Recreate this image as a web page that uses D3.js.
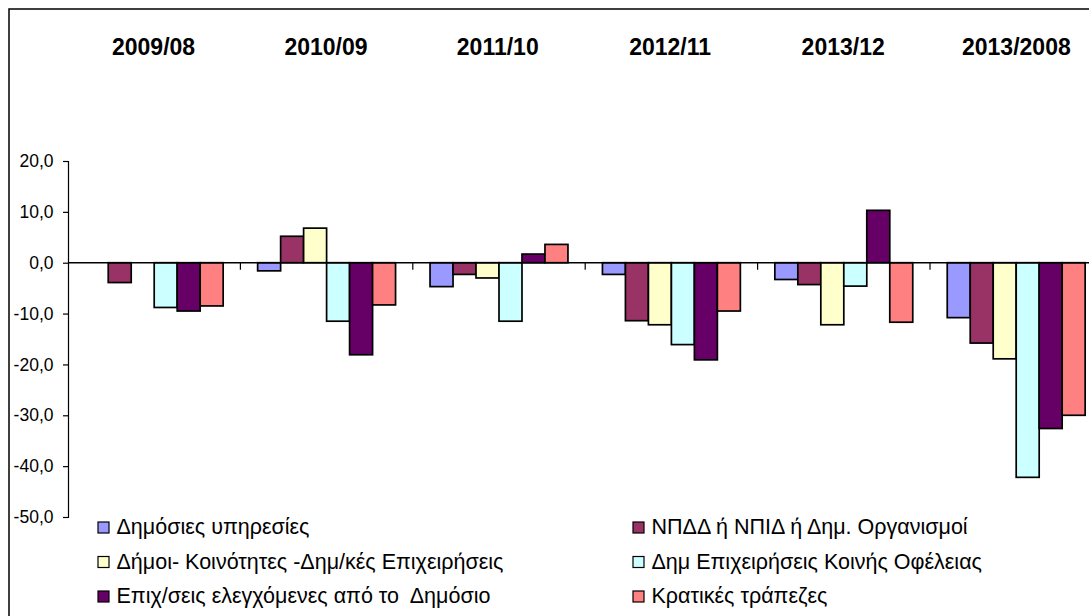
<!DOCTYPE html>
<html>
<head>
<meta charset="utf-8">
<script src="https://cdn.jsdelivr.net/npm/d3@7"></script>
<style>
  body { margin: 0; background: #fff; }
  text { font-family: "Liberation Sans", Arial, sans-serif; fill: #000; white-space: pre; }
</style>
</head>
<body>
<svg id="chart" width="1089" height="616"></svg>
<script>
// categories and series
const periods = ['2009/08', '2010/09', '2011/10', '2012/11', '2013/12', '2013/2008'];
const seriesNames = [
  'Δημόσιες υπηρεσίες',
  'ΝΠΔΔ ή ΝΠΙΔ ή Δημ. Οργανισμοί',
  'Δήμοι- Κοινότητες -Δημ/κές Επιχειρήσεις',
  'Δημ Επιχειρήσεις Κοινής Οφέλειας',
  'Επιχ/σεις ελεγχόμενες από το  Δημόσιο',
  'Κρατικές τράπεζες'
];
const seriesColors = ['#9999FF', '#993366', '#FFFFCC', '#CCFFFF', '#660066', '#FF8080'];

// values per series (null = no bar)
const dimosiesYpiresies = [null, -1.6, -4.7, -2.3, -3.3, -10.8];
const npdd = [-3.9, 5.2, -2.3, -11.4, -4.3, -15.8];
const dimoi = [null, 6.8, -3.0, -12.2, -12.2, -18.9];
const dimEpix = [-8.8, -11.5, -11.5, -16.1, -4.6, -42.2];
const epixDimosio = [-9.5, -18.1, 1.7, -19.1, 10.3, -32.6];
const kratikesTrapezes = [-8.5, -8.3, 3.6, -9.5, -11.7, -30.0];
const seriesValues = [dimosiesYpiresies, npdd, dimoi, dimEpix, epixDimosio, kratikesTrapezes];

const yTicks = [20, 10, 0, -10, -20, -30, -40, -50];
const fmt = v => d3.format('.1f')(v).replace('.', ',').replace('−', '-');

const svg = d3.select('#chart');

//outer frame (cut by the picture edges)
svg.append('rect')
  .attr('x', 9).attr('y', 9)
  .attr('width', 1200).attr('height', 800)
  .attr('fill', 'none').attr('stroke', '#000').attr('stroke-width', 1.5);

//scales
const plotLeft = 68, bandW = 172.4;
const x0 = d3.scaleBand().domain(periods)
  .range([plotLeft, plotLeft + bandW * periods.length]).padding(0);
const barW = bandW / 7.5;
const x1 = d3.scaleBand().domain(d3.range(seriesNames.length))
  .range([barW * 0.75, bandW - barW * 0.75]).padding(0);
const y = d3.scaleLinear().domain([-50, 20]).range([517, 161]);

//y axis
const yAxis = d3.axisLeft(y).tickValues(yTicks).tickSize(5).tickPadding(9.5).tickFormat(fmt);
const ya = svg.append('g').attr('transform', `translate(${plotLeft},0)`).call(yAxis);
ya.select('.domain').attr('stroke', '#000').attr('stroke-width', 1.2);
ya.selectAll('.tick line').attr('stroke', '#000').attr('stroke-width', 1.2);
ya.selectAll('.tick text').attr('font-size', 17.5).attr('font-family', '"Liberation Sans", Arial, sans-serif');

//bars
const groups = svg.append('g').selectAll('g')
  .data(periods).join('g')
  .attr('transform', d => `translate(${x0(d)},0)`);

groups.selectAll('rect')
  .data((p, i) => seriesValues.map((vals, s) => ({ s: s, v: vals[i] })).filter(d => d.v != null))
  .join('rect')
  .attr('x', d => x1(d.s))
  .attr('width', x1.bandwidth())
  .attr('y', d => y(Math.max(0, d.v)))
  .attr('height', d => Math.abs(y(d.v) - y(0)))
  .attr('fill', d => seriesColors[d.s])
  .attr('stroke', '#000')
  .attr('stroke-width', 1.7);

//zero line with category ticks
svg.append('line')
  .attr('x1', plotLeft).attr('x2', 1100)
  .attr('y1', y(0)).attr('y2', y(0))
  .attr('stroke', '#000').attr('stroke-width', 1.5);
svg.append('g').selectAll('line')
  .data(periods.slice(1)).join('line')
  .attr('x1', d => x0(d)).attr('x2', d => x0(d))
  .attr('y1', y(0)).attr('y2', y(0) + 7)
  .attr('stroke', '#000').attr('stroke-width', 1.2);

//period labels at top (last one is a wider label, sits further left)
svg.append('g').selectAll('text')
  .data(periods).join('text')
  .attr('x', (d, i) => x0(d) + (i === periods.length - 1 ? 32 : 44))
  .attr('y', 55)
  .attr('font-size', 23)
  .attr('font-weight', 'bold')
  .text(d => d);

//legend
const legend = svg.append('g').selectAll('g')
  .data(seriesNames).join('g')
  .attr('transform', (d, i) => `translate(${i % 2 ? 633 : 98},${534 + Math.floor(i / 2) * 34.5})`);
legend.append('rect')
  .attr('y', -12)
  .attr('width', 11).attr('height', 11)
  .attr('fill', (d, i) => seriesColors[i])
  .attr('stroke', '#000').attr('stroke-width', 1.2);
legend.append('text')
  .attr('x', 18.5).attr('y', 0)
  .attr('font-size', 21.5)
  .text(d => d);
</script>
</body>
</html>
